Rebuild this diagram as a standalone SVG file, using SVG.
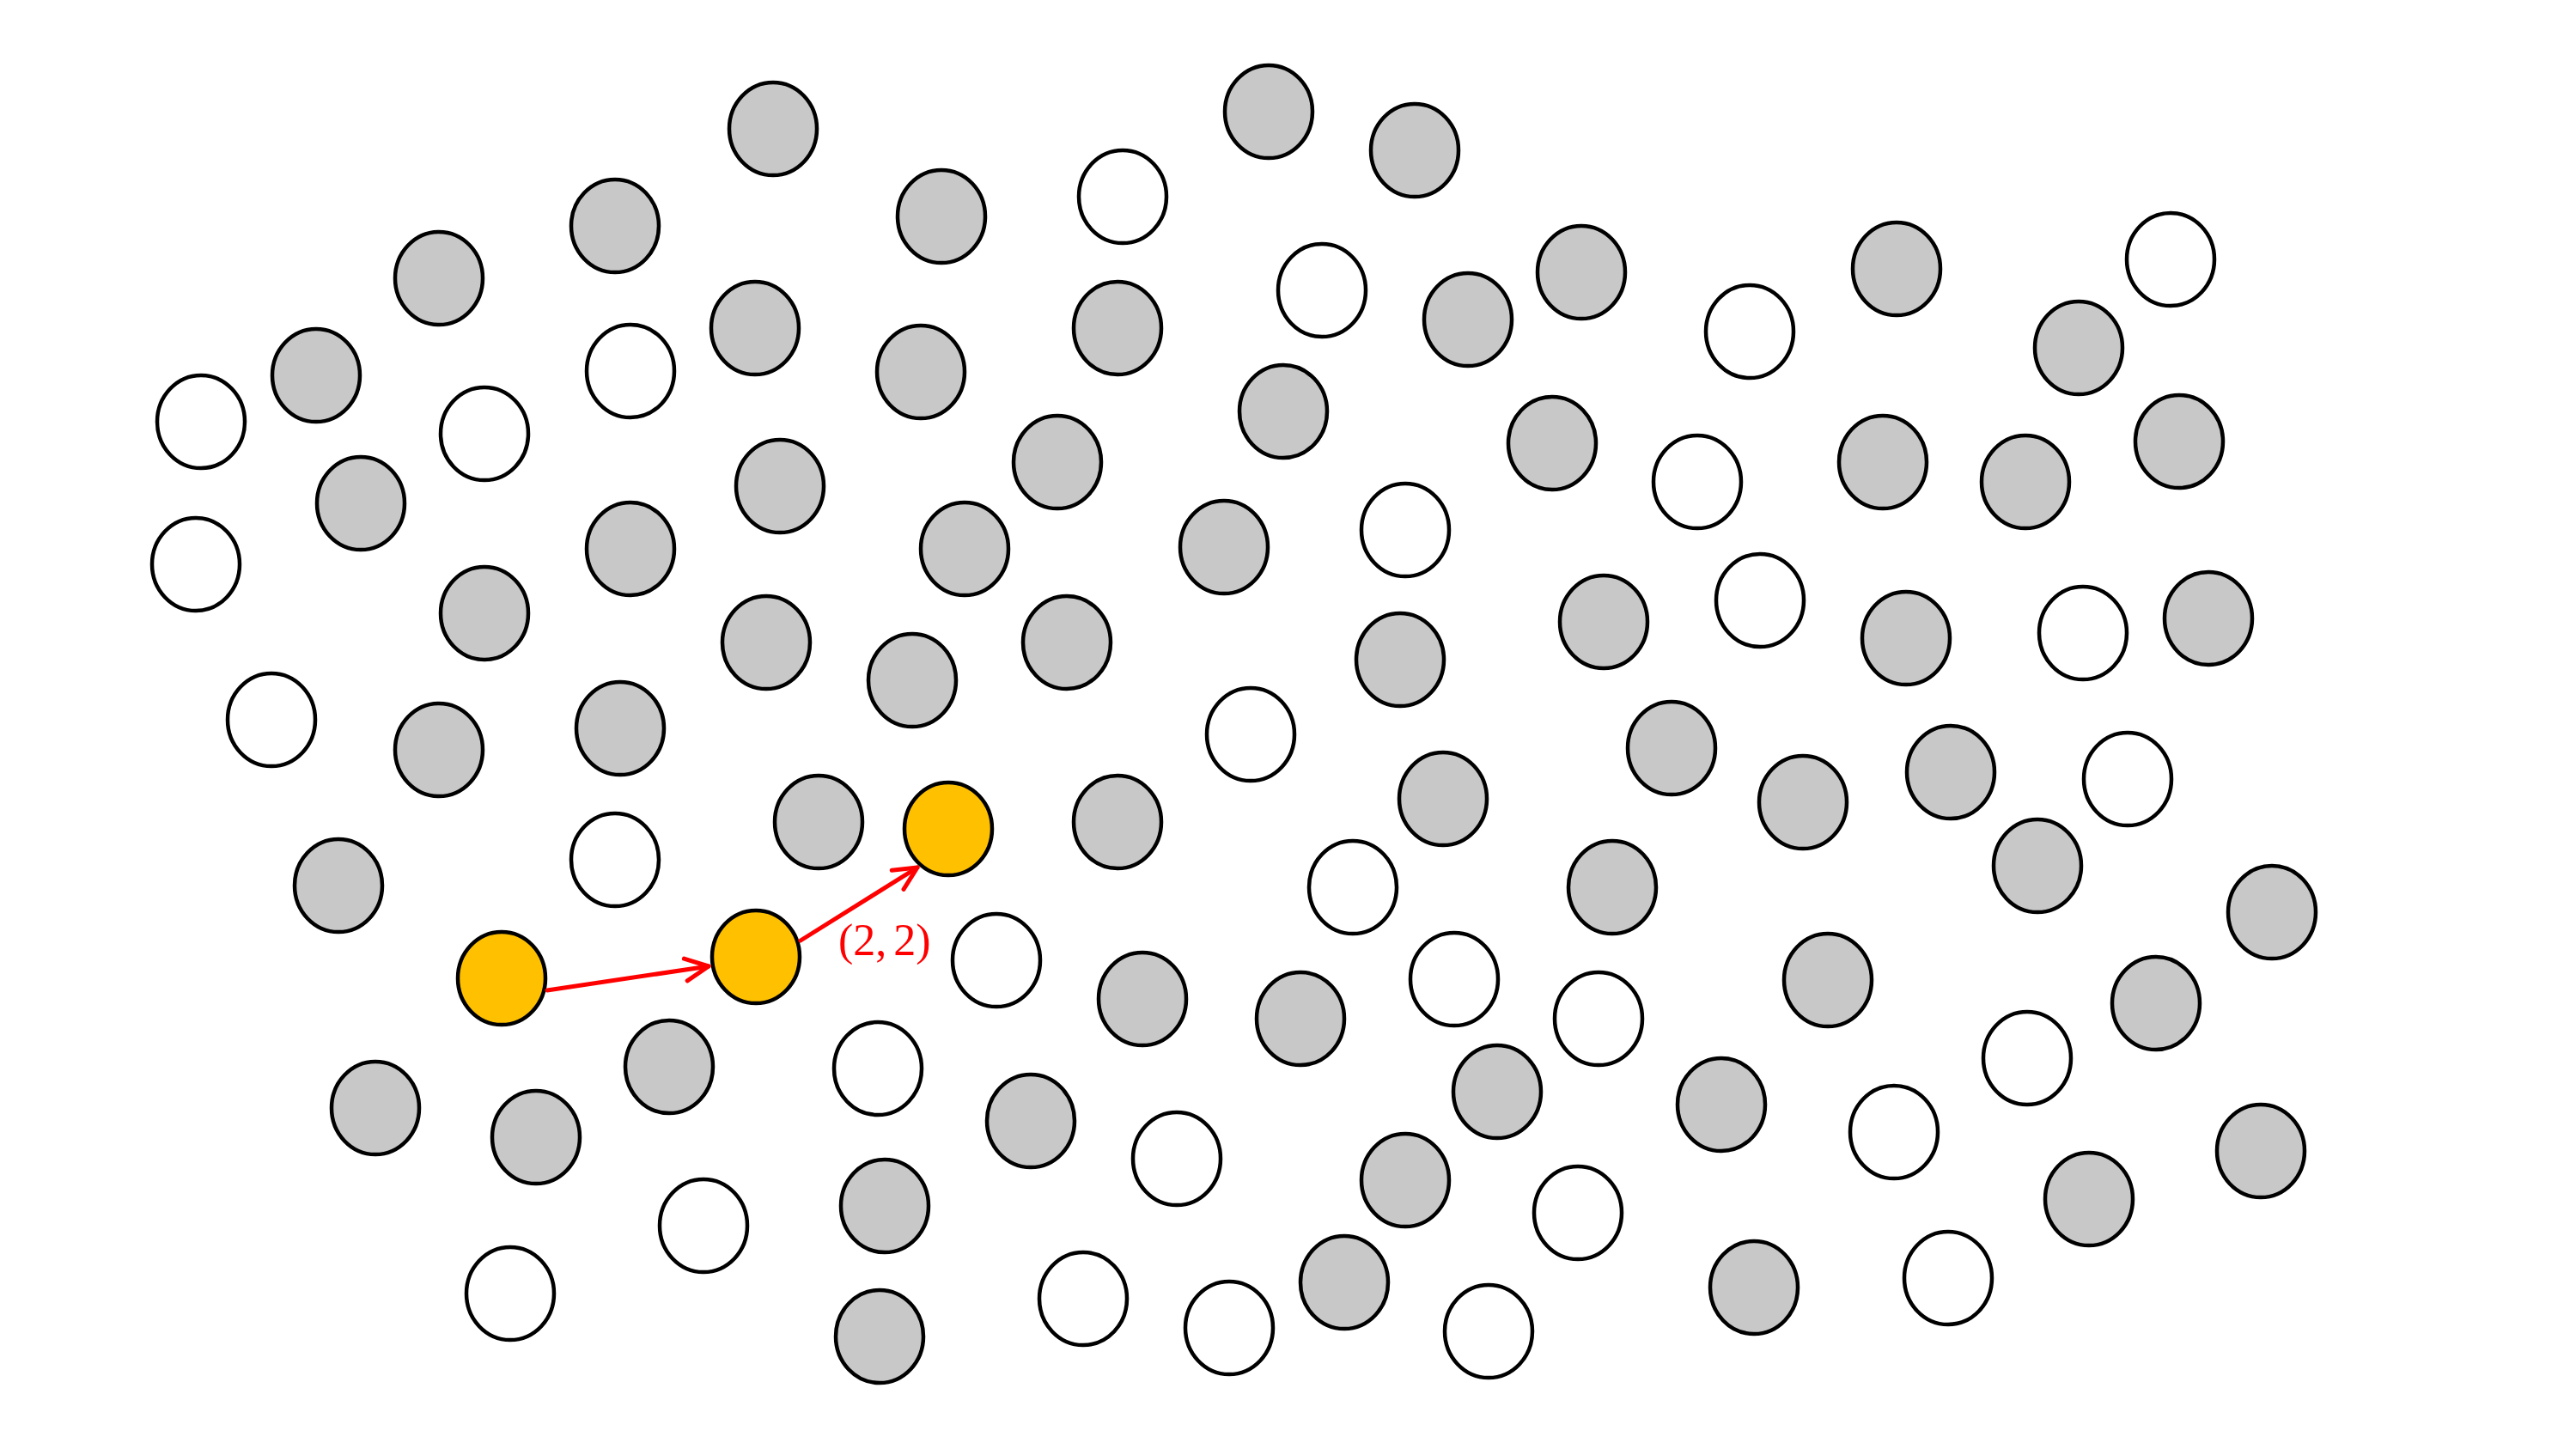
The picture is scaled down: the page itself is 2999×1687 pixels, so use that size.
<svg xmlns="http://www.w3.org/2000/svg" width="2999" height="1687" viewBox="0 0 2999 1687">
<style>
ellipse{stroke:#000;stroke-width:4.5}
.g{fill:#c8c8c8}
.w{fill:#fff}
.y{fill:#ffc000}
.arrow{stroke:#ff0000;stroke-width:5;fill:none;stroke-linecap:round}
.lbl{font-family:"Liberation Serif","DejaVu Serif",serif;font-size:52px;fill:#ff0000}
</style>
<defs>
<marker id="ah" markerUnits="userSpaceOnUse" viewBox="-32 -18 36 36" markerWidth="36" markerHeight="36" refX="0" refY="0" orient="auto">
<path d="M-27,-13 L0,0 L-27,13" fill="none" stroke="#ff0000" stroke-width="5" stroke-linecap="round" stroke-linejoin="round"/>
</marker>
</defs>
<rect width="2999" height="1687" fill="#fff"/>
<g id="nodes">
<g id="n1"><ellipse class="g" cx="900" cy="150" rx="51" ry="54"/></g>
<g id="n2"><ellipse class="g" cx="1477" cy="130" rx="51" ry="54"/></g>
<g id="n3"><ellipse class="g" cx="1647" cy="175" rx="51" ry="54"/></g>
<g id="n4"><ellipse class="g" cx="716" cy="263" rx="51" ry="54"/></g>
<g id="n5"><ellipse class="g" cx="1096" cy="252" rx="51" ry="54"/></g>
<g id="n6"><ellipse class="w" cx="1307" cy="229" rx="51" ry="54"/></g>
<g id="n7"><ellipse class="g" cx="511" cy="324" rx="51" ry="54"/></g>
<g id="n8"><ellipse class="w" cx="1539" cy="338" rx="51" ry="54"/></g>
<g id="n9"><ellipse class="g" cx="1709" cy="372" rx="51" ry="54"/></g>
<g id="n10"><ellipse class="g" cx="1841" cy="317" rx="51" ry="54"/></g>
<g id="n11"><ellipse class="g" cx="2208" cy="313" rx="51" ry="54"/></g>
<g id="n12"><ellipse class="w" cx="2527" cy="302" rx="51" ry="54"/></g>
<g id="n13"><ellipse class="g" cx="368" cy="437" rx="51" ry="54"/></g>
<g id="n14"><ellipse class="w" cx="734" cy="432" rx="51" ry="54"/></g>
<g id="n15"><ellipse class="g" cx="879" cy="382" rx="51" ry="54"/></g>
<g id="n16"><ellipse class="g" cx="1072" cy="433" rx="51" ry="54"/></g>
<g id="n17"><ellipse class="g" cx="1301" cy="382" rx="51" ry="54"/></g>
<g id="n18"><ellipse class="w" cx="2037" cy="386" rx="51" ry="54"/></g>
<g id="n19"><ellipse class="g" cx="2420" cy="405" rx="51" ry="54"/></g>
<g id="n20"><ellipse class="w" cx="234" cy="491" rx="51" ry="54"/></g>
<g id="n21"><ellipse class="w" cx="564" cy="505" rx="51" ry="54"/></g>
<g id="n22"><ellipse class="g" cx="1494" cy="479" rx="51" ry="54"/></g>
<g id="n23"><ellipse class="g" cx="1231" cy="538" rx="51" ry="54"/></g>
<g id="n24"><ellipse class="g" cx="1807" cy="516" rx="51" ry="54"/></g>
<g id="n25"><ellipse class="w" cx="1976" cy="561" rx="51" ry="54"/></g>
<g id="n26"><ellipse class="g" cx="2192" cy="538" rx="51" ry="54"/></g>
<g id="n27"><ellipse class="g" cx="2358" cy="561" rx="51" ry="54"/></g>
<g id="n28"><ellipse class="g" cx="2537" cy="514" rx="51" ry="54"/></g>
<g id="n29"><ellipse class="g" cx="420" cy="586" rx="51" ry="54"/></g>
<g id="n30"><ellipse class="g" cx="908" cy="566" rx="51" ry="54"/></g>
<g id="n31"><ellipse class="w" cx="228" cy="657" rx="51" ry="54"/></g>
<g id="n32"><ellipse class="g" cx="734" cy="639" rx="51" ry="54"/></g>
<g id="n33"><ellipse class="g" cx="1123" cy="639" rx="51" ry="54"/></g>
<g id="n34"><ellipse class="g" cx="1425" cy="637" rx="51" ry="54"/></g>
<g id="n35"><ellipse class="w" cx="1636" cy="617" rx="51" ry="54"/></g>
<g id="n36"><ellipse class="g" cx="564" cy="714" rx="51" ry="54"/></g>
<g id="n37"><ellipse class="g" cx="892" cy="748" rx="51" ry="54"/></g>
<g id="n38"><ellipse class="g" cx="1062" cy="792" rx="51" ry="54"/></g>
<g id="n39"><ellipse class="g" cx="1242" cy="748" rx="51" ry="54"/></g>
<g id="n40"><ellipse class="g" cx="1867" cy="724" rx="51" ry="54"/></g>
<g id="n41"><ellipse class="w" cx="2049" cy="699" rx="51" ry="54"/></g>
<g id="n42"><ellipse class="g" cx="2219" cy="743" rx="51" ry="54"/></g>
<g id="n43"><ellipse class="w" cx="2425" cy="737" rx="51" ry="54"/></g>
<g id="n44"><ellipse class="g" cx="2571" cy="720" rx="51" ry="54"/></g>
<g id="n45"><ellipse class="w" cx="316" cy="838" rx="51" ry="54"/></g>
<g id="n46"><ellipse class="g" cx="511" cy="873" rx="51" ry="54"/></g>
<g id="n47"><ellipse class="g" cx="722" cy="848" rx="51" ry="54"/></g>
<g id="n48"><ellipse class="g" cx="1630" cy="768" rx="51" ry="54"/></g>
<g id="n49"><ellipse class="w" cx="1456" cy="855" rx="51" ry="54"/></g>
<g id="n50"><ellipse class="g" cx="1946" cy="871" rx="51" ry="54"/></g>
<g id="n51"><ellipse class="g" cx="2099" cy="934" rx="51" ry="54"/></g>
<g id="n52"><ellipse class="g" cx="2271" cy="899" rx="51" ry="54"/></g>
<g id="n53"><ellipse class="w" cx="2477" cy="907" rx="51" ry="54"/></g>
<g id="n54"><ellipse class="g" cx="394" cy="1031" rx="51" ry="54"/></g>
<g id="n55"><ellipse class="w" cx="716" cy="1001" rx="51" ry="54"/></g>
<g id="n56"><ellipse class="g" cx="953" cy="957" rx="51" ry="54"/></g>
<g id="n57"><ellipse class="y" cx="1104" cy="965" rx="51" ry="54"/></g>
<g id="n58"><ellipse class="g" cx="1301" cy="957" rx="51" ry="54"/></g>
<g id="n59"><ellipse class="g" cx="1680" cy="930" rx="51" ry="54"/></g>
<g id="n60"><ellipse class="w" cx="1575" cy="1033" rx="51" ry="54"/></g>
<g id="n61"><ellipse class="g" cx="1877" cy="1033" rx="51" ry="54"/></g>
<g id="n62"><ellipse class="g" cx="2372" cy="1008" rx="51" ry="54"/></g>
<g id="n63"><ellipse class="g" cx="2645" cy="1062" rx="51" ry="54"/></g>
<g id="n64"><ellipse class="y" cx="584" cy="1139" rx="51" ry="54"/></g>
<g id="n65"><ellipse class="y" cx="880" cy="1114" rx="51" ry="54"/></g>
<g id="n66"><ellipse class="w" cx="1160" cy="1118" rx="51" ry="54"/></g>
<g id="n67"><ellipse class="g" cx="1330" cy="1163" rx="51" ry="54"/></g>
<g id="n68"><ellipse class="g" cx="1514" cy="1186" rx="51" ry="54"/></g>
<g id="n69"><ellipse class="w" cx="1693" cy="1140" rx="51" ry="54"/></g>
<g id="n70"><ellipse class="w" cx="1861" cy="1186" rx="51" ry="54"/></g>
<g id="n71"><ellipse class="g" cx="2128" cy="1141" rx="51" ry="54"/></g>
<g id="n72"><ellipse class="g" cx="2510" cy="1168" rx="51" ry="54"/></g>
<g id="n73"><ellipse class="g" cx="437" cy="1290" rx="51" ry="54"/></g>
<g id="n74"><ellipse class="g" cx="779" cy="1242" rx="51" ry="54"/></g>
<g id="n75"><ellipse class="w" cx="1022" cy="1244" rx="51" ry="54"/></g>
<g id="n76"><ellipse class="g" cx="624" cy="1324" rx="51" ry="54"/></g>
<g id="n77"><ellipse class="g" cx="1200" cy="1305" rx="51" ry="54"/></g>
<g id="n78"><ellipse class="w" cx="1370" cy="1349" rx="51" ry="54"/></g>
<g id="n79"><ellipse class="g" cx="1743" cy="1271" rx="51" ry="54"/></g>
<g id="n80"><ellipse class="g" cx="2004" cy="1286" rx="51" ry="54"/></g>
<g id="n81"><ellipse class="w" cx="2360" cy="1232" rx="51" ry="54"/></g>
<g id="n82"><ellipse class="w" cx="2205" cy="1318" rx="51" ry="54"/></g>
<g id="n83"><ellipse class="g" cx="2632" cy="1340" rx="51" ry="54"/></g>
<g id="n84"><ellipse class="w" cx="819" cy="1427" rx="51" ry="54"/></g>
<g id="n85"><ellipse class="g" cx="1030" cy="1404" rx="51" ry="54"/></g>
<g id="n86"><ellipse class="g" cx="1636" cy="1374" rx="51" ry="54"/></g>
<g id="n87"><ellipse class="w" cx="1837" cy="1412" rx="51" ry="54"/></g>
<g id="n88"><ellipse class="g" cx="2432" cy="1396" rx="51" ry="54"/></g>
<g id="n89"><ellipse class="w" cx="594" cy="1506" rx="51" ry="54"/></g>
<g id="n90"><ellipse class="g" cx="1024" cy="1556" rx="51" ry="54"/></g>
<g id="n91"><ellipse class="w" cx="1261" cy="1512" rx="51" ry="54"/></g>
<g id="n92"><ellipse class="w" cx="1431" cy="1546" rx="51" ry="54"/></g>
<g id="n93"><ellipse class="g" cx="1565" cy="1493" rx="51" ry="54"/></g>
<g id="n94"><ellipse class="w" cx="1733" cy="1550" rx="51" ry="54"/></g>
<g id="n95"><ellipse class="g" cx="2042" cy="1499" rx="51" ry="54"/></g>
<g id="n96"><ellipse class="w" cx="2268" cy="1488" rx="51" ry="54"/></g>
</g>
<g id="connectors">
<line class="arrow" x1="637" y1="1153" x2="825" y2="1125" marker-end="url(#ah)"/>
<line class="arrow" x1="932" y1="1095" x2="1068" y2="1010" marker-end="url(#ah)"/>
<text class="lbl" x="976" y="1112">(2,<tspan dx="8">2</tspan>)</text>
</g>
</svg>
